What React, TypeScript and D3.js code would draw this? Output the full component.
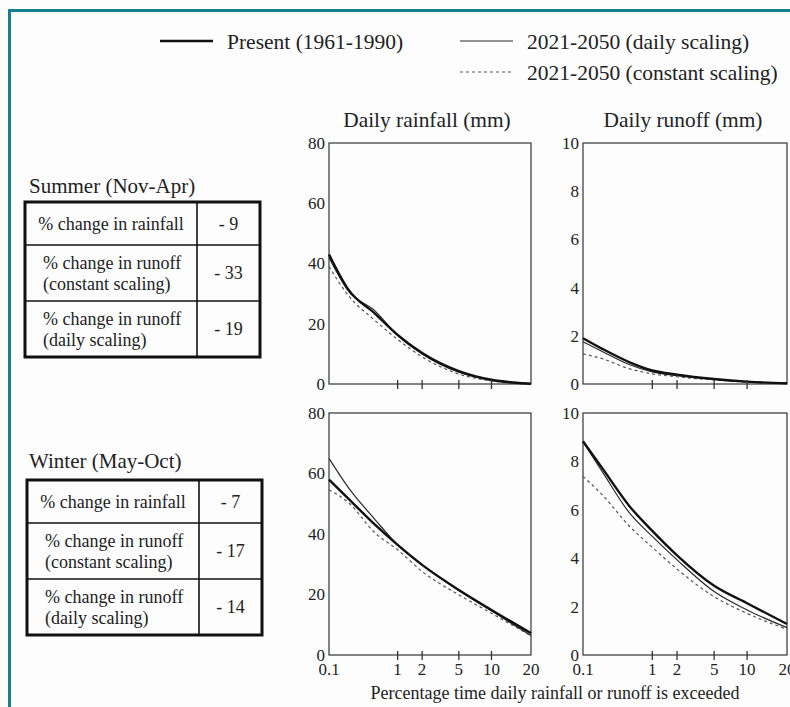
import React from "react";
import * as d3 from "d3";

// percentage of time exceeded (x positions of the curve vertices)
const exceedance = [0.1, 0.2, 0.5, 1, 2, 5, 10, 20];
const xLabels = [0.1, 1, 2, 5, 10, 20];
const xCrossTicks = [1, 2, 5, 10];

const rainTicks = [0, 20, 40, 60, 80];
const runoffTicks = [0, 2, 4, 6, 8, 10];

// summer (Nov-Apr)
const summerRainPresent = [43, 31.5, 23.3, 16.3, 10.3, 4.3, 1.4, 0.1];
const summerRainDaily = [42, 31, 24.2, 16.1, 10, 3.9, 1.2, 0.1];
const summerRainConstant = [39, 29.5, 21, 14.8, 9, 3.3, 1.0, 0];
const summerRunoffPresent = [1.9, 1.46, 0.9, 0.56, 0.39, 0.21, 0.1, 0.03];
const summerRunoffDaily = [1.75, 1.35, 0.8, 0.5, 0.35, 0.19, 0.09, 0.03];
const summerRunoffConstant = [1.25, 1.05, 0.63, 0.42, 0.3, 0.17, 0.08, 0.02];

// winter (May-Oct)
const winterRainPresent = [58, 51.8, 43, 36.4, 29.8, 21.5, 14.9, 7.2];
const winterRainDaily = [65, 55.5, 44.7, 36.4, 29.8, 21.3, 14.6, 6.4];
const winterRainConstant = [54.6, 50.5, 40.3, 34.8, 27.6, 19.9, 13.8, 6.3];
const winterRunoffPresent = [8.83, 7.72, 6.14, 5.13, 4.12, 2.86, 2.14, 1.28];
const winterRunoffDaily = [8.8, 7.58, 5.86, 4.9, 3.93, 2.62, 1.86, 1.13];
const winterRunoffConstant = [7.38, 6.62, 5.31, 4.45, 3.55, 2.41, 1.72, 1.06];

const seriesNames = [
  "Present (1961-1990)",
  "2021-2050 (daily scaling)",
  "2021-2050 (constant scaling)",
];
const tableRows = [
  ["% change in rainfall"],
  ["% change in runoff", "(constant scaling)"],
  ["% change in runoff", "(daily scaling)"],
];
const summerChanges = ["- 9", "- 33", "- 19"];
const winterChanges = ["- 7", "- 17", "- 14"];

const FONT = "'Liberation Serif', 'Times New Roman', serif";
const TEXT = "#222";

// inverse normal cdf (Acklam) - x axis is a probability scale
function probit(p: number): number {
  const a = [-39.69683028665376, 220.9460984245205, -275.9285104469687, 138.357751867269, -30.66479806614716, 2.506628277459239];
  const b = [-54.47609879822406, 161.5858368580409, -155.6989798598866, 66.80131188771972, -13.28068155288572];
  const c = [-0.007784894002430293, -0.3223964580411365, -2.400758277161838, -2.549732539343734, 4.374664141464968, 2.938163982698783];
  const d = [0.007784695709041462, 0.3224671290700398, 2.445134137142996, 3.754408661907416];
  const pl = 0.02425;
  if (p < pl) {
    const q = Math.sqrt(-2 * Math.log(p));
    return (((((c[0] * q + c[1]) * q + c[2]) * q + c[3]) * q + c[4]) * q + c[5]) /
      ((((d[0] * q + d[1]) * q + d[2]) * q + d[3]) * q + 1);
  }
  if (p <= 1 - pl) {
    const q = p - 0.5;
    const r = q * q;
    return ((((((a[0] * r + a[1]) * r + a[2]) * r + a[3]) * r + a[4]) * r + a[5]) * q) /
      (((((b[0] * r + b[1]) * r + b[2]) * r + b[3]) * r + b[4]) * r + 1);
  }
  const q = Math.sqrt(-2 * Math.log(1 - p));
  return -(((((c[0] * q + c[1]) * q + c[2]) * q + c[3]) * q + c[4]) * q + c[5]) /
    ((((d[0] * q + d[1]) * q + d[2]) * q + d[3]) * q + 1);
}

const styles = [
  { stroke: "#111", width: 2.4, dash: undefined },
  { stroke: "#2a2a2a", width: 1.2, dash: undefined },
  { stroke: "#555", width: 1.2, dash: "3,3" },
];

type PanelProps = {
  left: number;
  top: number;
  width: number;
  height: number;
  yTicks: number[];
  series: number[][]; // present, daily, constant
  showXLabels: boolean;
};

function Panel({ left, top, width, height, yTicks, series, showXLabels }: PanelProps) {
  const x = d3
    .scaleLinear()
    .domain([probit(0.001), probit(0.2)])
    .range([0, width]);
  const y = d3
    .scaleLinear()
    .domain([0, d3.max(yTicks) as number])
    .range([height, 0]);
  const px = (p: number) => x(probit(p / 100));
  const line = d3
    .line<number>()
    .x((_, i) => px(exceedance[i]))
    .y((v) => y(v))
    .curve(d3.curveMonotoneX);

  // draw constant first, present last
  const order = [2, 1, 0];

  return (
    <g transform={`translate(${left},${top})`}>
      <rect x={0} y={0} width={width} height={height} fill="none" stroke="#444" strokeWidth={1.3} />
      {order.map((k) => (
        <path
          key={k}
          d={line(series[k]) || ""}
          fill="none"
          stroke={styles[k].stroke}
          strokeWidth={styles[k].width}
          strokeDasharray={styles[k].dash}
          strokeLinejoin="round"
        />
      ))}
      {yTicks.map((t) => (
        <text
          key={t}
          x={-4}
          y={y(t)}
          dy="0.35em"
          textAnchor="end"
          fontFamily={FONT}
          fontSize={17}
          fill={TEXT}
        >
          {t}
        </text>
      ))}
      {xCrossTicks.map((t) => (
        <line key={t} x1={px(t)} x2={px(t)} y1={height - 4} y2={height + 5} stroke="#333" strokeWidth={1.3} />
      ))}
      {showXLabels &&
        xLabels.map((t) => (
          <text
            key={t}
            x={px(t)}
            y={height + 20}
            textAnchor="middle"
            fontFamily={FONT}
            fontSize={17}
            fill={TEXT}
          >
            {t}
          </text>
        ))}
    </g>
  );
}

function ChangeTable({ left, top, changes }: { left: number; top: number; changes: string[] }) {
  const rowH = [43, 56, 56];
  const w = 235;
  const col = 172;
  const ys = [0, 43, 99, 155];
  return (
    <g transform={`translate(${left},${top})`} fontFamily={FONT} fill={TEXT}>
      {tableRows.map((lines, i) => (
        <g key={i}>
          {lines.length === 1 ? (
            <text x={col / 2} y={ys[i] + rowH[i] / 2} dy="0.35em" textAnchor="middle" fontSize={18}>
              {lines[0]}
            </text>
          ) : (
            lines.map((l, j) => (
              <text key={j} x={18} y={ys[i] + 18 + j * 21} dy="0.35em" fontSize={18}>
                {l}
              </text>
            ))
          )}
          <text x={(col + w) / 2} y={ys[i] + rowH[i] / 2} dy="0.35em" textAnchor="middle" fontSize={18}>
            {changes[i]}
          </text>
        </g>
      ))}
      <line x1={0} x2={w} y1={ys[1]} y2={ys[1]} stroke="#111" strokeWidth={1.6} />
      <line x1={0} x2={w} y1={ys[2]} y2={ys[2]} stroke="#111" strokeWidth={1.6} />
      <line x1={col} x2={col} y1={0} y2={ys[3]} stroke="#111" strokeWidth={1.6} />
      <rect x={0} y={0} width={w} height={ys[3]} fill="none" stroke="#111" strokeWidth={3} />
    </g>
  );
}

export default function App() {
  const legend = [
    { x: 160, y: 41, k: 0 },
    { x: 460, y: 41, k: 1 },
    { x: 460, y: 72, k: 2 },
  ];
  return (
    <svg
      width={790}
      height={707}
      style={{ position: "absolute", left: 0, top: 0, display: "block", background: "#fdfdfd" }}
    >
      {/* frame */}
      <line x1={8} x2={790} y1={10.5} y2={10.5} stroke="#17808c" strokeWidth={3} />
      <line x1={9.5} x2={9.5} y1={9} y2={707} stroke="#17808c" strokeWidth={3} />

      {/* legend */}
      {legend.map((l) => (
        <g key={l.k}>
          <line
            x1={l.x}
            x2={l.x + 53}
            y1={l.y}
            y2={l.y}
            stroke={styles[l.k].stroke}
            strokeWidth={styles[l.k].width}
            strokeDasharray={styles[l.k].dash}
          />
          <text x={l.x + 67} y={l.y} dy="0.35em" fontFamily={FONT} fontSize={21.5} fill={TEXT}>
            {seriesNames[l.k]}
          </text>
        </g>
      ))}

      <text x={427} y={120} dy="0.35em" textAnchor="middle" fontFamily={FONT} fontSize={21.4} fill={TEXT}>
        Daily rainfall (mm)
      </text>
      <text x={683} y={120} dy="0.35em" textAnchor="middle" fontFamily={FONT} fontSize={21.4} fill={TEXT}>
        Daily runoff (mm)
      </text>

      <text x={29} y={186} dy="0.35em" fontFamily={FONT} fontSize={21} fill={TEXT}>
        Summer (Nov-Apr)
      </text>
      <ChangeTable left={25} top={202} changes={summerChanges} />
      <text x={29} y={461} dy="0.35em" fontFamily={FONT} fontSize={21} fill={TEXT}>
        Winter (May-Oct)
      </text>
      <ChangeTable left={27} top={480} changes={winterChanges} />

      <Panel
        left={329}
        top={143}
        width={202}
        height={241}
        yTicks={rainTicks}
        series={[summerRainPresent, summerRainDaily, summerRainConstant]}
        showXLabels={false}
      />
      <Panel
        left={583}
        top={143}
        width={204}
        height={241}
        yTicks={runoffTicks}
        series={[summerRunoffPresent, summerRunoffDaily, summerRunoffConstant]}
        showXLabels={false}
      />
      <Panel
        left={329}
        top={413}
        width={202}
        height={242}
        yTicks={rainTicks}
        series={[winterRainPresent, winterRainDaily, winterRainConstant]}
        showXLabels={true}
      />
      <Panel
        left={583}
        top={413}
        width={204}
        height={242}
        yTicks={runoffTicks}
        series={[winterRunoffPresent, winterRunoffDaily, winterRunoffConstant]}
        showXLabels={true}
      />

      <text x={555} y={693} dy="0.35em" textAnchor="middle" fontFamily={FONT} fontSize={18} fill={TEXT}>
        Percentage time daily rainfall or runoff is exceeded
      </text>
    </svg>
  );
}
